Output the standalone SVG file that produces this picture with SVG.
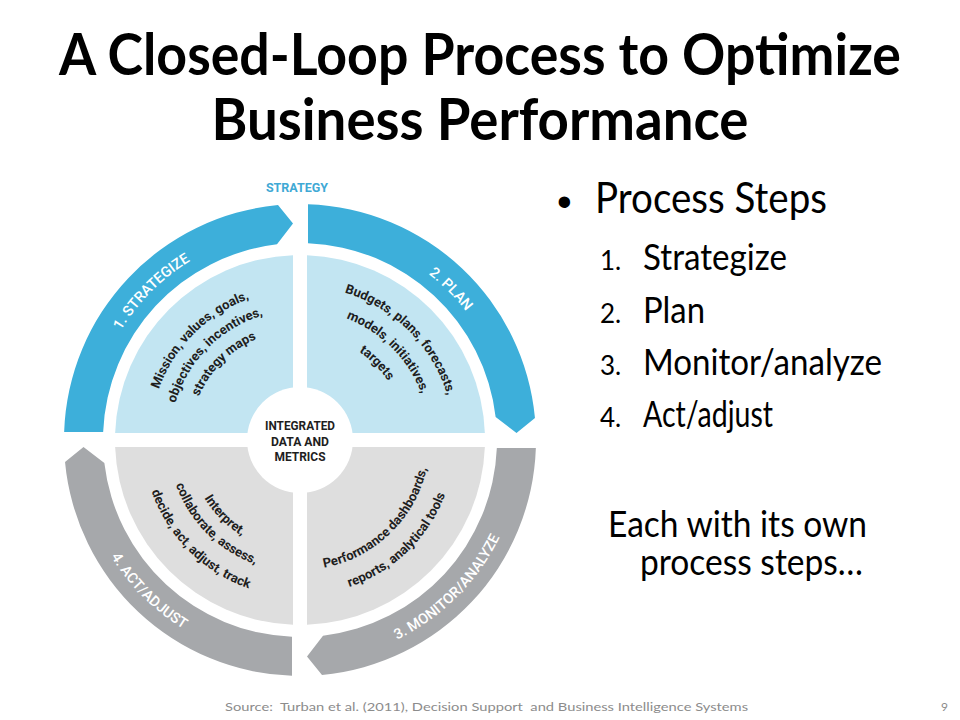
<svg xmlns="http://www.w3.org/2000/svg" xmlns:xlink="http://www.w3.org/1999/xlink" width="960" height="720" viewBox="0 0 960 720">
<style>
.title{font-family:Lato,"Open Sans","Liberation Sans",sans-serif;font-weight:bold;font-size:58px;fill:#000;text-anchor:middle}
.body{font-family:Lato,"Open Sans","Liberation Sans",sans-serif;fill:#000}
.num{font-size:26px}
.item{font-size:37px}
.blue{fill:#3DAFDA}
.lblue{fill:#C2E5F2}
.gray{fill:#A6A8AB}
.lgray{fill:#DEDEDE}
.ring{font-family:Roboto,"Liberation Sans",sans-serif;font-weight:500;font-size:14.5px;fill:#fff;text-anchor:middle}
.inner{font-family:Roboto,"Liberation Sans",sans-serif;font-weight:bold;font-size:13px;fill:#1E1E1E;text-anchor:middle}
.ctr{font-family:Roboto,"Liberation Sans",sans-serif;font-weight:bold;font-size:13.5px;fill:#1E1E1E;text-anchor:middle}
.foot{font-family:Lato,"Open Sans","Liberation Sans",sans-serif;font-size:12px;fill:#8C8C8C}
</style>
<defs>
<path id="band" d="M -235.86 -8 A 236 236 0 0 1 -22 -234.97 L -7 -216.5 L -23 -195.65 A 197 197 0 0 0 -196.84 -8 Z"/>
<path id="quad" d="M -7 -7 L -7 -184.87 A 185 185 0 0 0 -184.87 -7 Z"/>
<path id="p-s1" d="M 90 440 A 210 210 0 0 1 300 230"/>
<path id="p-s2" d="M 300 230 A 210 210 0 0 1 510 440"/>
<path id="p-s3" d="M 300 662 A 222 222 0 0 0 522 440"/>
<path id="p-s4" d="M 78 440 A 222 222 0 0 0 300 662"/>
<path id="tl1" d="M 177.12 526.04 A 150 150 0 0 1 386.04 317.12"/>
<path id="tl2" d="M 193.5 514.57 A 130 130 0 0 1 374.57 333.5"/>
<path id="tl3" d="M 209.89 503.1 A 110 110 0 0 1 363.1 349.89"/>
<path id="tr1" d="M 211.67 313.84 A 154 154 0 0 1 426.16 528.33"/>
<path id="tr2" d="M 225.43 333.5 A 130 130 0 0 1 406.5 514.57"/>
<path id="tr3" d="M 239.2 353.16 A 106 106 0 0 1 386.84 500.8"/>
<path id="bl1" d="M 208.25 375.76 A 112 112 0 0 0 364.24 531.75"/>
<path id="bl2" d="M 191.87 364.28 A 132 132 0 0 0 375.72 548.13"/>
<path id="bl3" d="M 171.39 349.94 A 157 157 0 0 0 390.06 568.61"/>
<path id="br1" d="M 223.59 545.17 A 130 130 0 0 0 407.77 367.3"/>
<path id="br2" d="M 208.89 565.4 A 155 155 0 0 0 428.5 353.32"/>
</defs>
<rect width="960" height="720" fill="#fff"/>
<g id="title">
<text class="title" x="480" y="75" textLength="842" lengthAdjust="spacingAndGlyphs">A Closed-Loop Process to Optimize</text>
<text class="title" x="480" y="140" textLength="537" lengthAdjust="spacingAndGlyphs">Business Performance</text>
</g>
<text id="strategy-label" x="297" y="192" font-family="Roboto,'Liberation Sans',sans-serif" font-weight="bold" font-size="12.5" fill="#3FA9D5" text-anchor="middle">STRATEGY</text>
<g id="connectors">
<use href="#band" class="blue" transform="translate(300 440)"/>
<use href="#band" class="blue" transform="translate(300 440) rotate(90)"/>
<use href="#band" class="gray" transform="translate(300 440) rotate(180)"/>
<use href="#band" class="gray" transform="translate(300 440) rotate(270)"/>
</g>
<g id="node-strategize">
<use href="#quad" class="lblue" transform="translate(300 440)"/>
<text class="ring"><textPath href="#p-s1" startOffset="50%">1. STRATEGIZE</textPath></text>
<text class="inner"><textPath href="#tl1" startOffset="50%">Mission, values, goals,</textPath></text>
<text class="inner"><textPath href="#tl2" startOffset="50%">objectives, incentives,</textPath></text>
<text class="inner"><textPath href="#tl3" startOffset="50%">strategy maps</textPath></text>
</g>
<g id="node-plan">
<use href="#quad" class="lblue" transform="translate(300 440) rotate(90)"/>
<text class="ring"><textPath href="#p-s2" startOffset="50%">2. PLAN</textPath></text>
<text class="inner"><textPath href="#tr1" startOffset="50%">Budgets, plans, forecasts,</textPath></text>
<text class="inner"><textPath href="#tr2" startOffset="50%">models, initiatives,</textPath></text>
<text class="inner"><textPath href="#tr3" startOffset="50%">targets</textPath></text>
</g>
<g id="node-monitor">
<use href="#quad" class="lgray" transform="translate(300 440) rotate(180)"/>
<text class="ring"><textPath href="#p-s3" startOffset="50%">3. MONITOR/ANALYZE</textPath></text>
<text class="inner"><textPath href="#br1" startOffset="50%">Performance dashboards,</textPath></text>
<text class="inner"><textPath href="#br2" startOffset="50%">reports, analytical tools</textPath></text>
</g>
<g id="node-act">
<use href="#quad" class="lgray" transform="translate(300 440) rotate(270)"/>
<text class="ring"><textPath href="#p-s4" startOffset="50%">4. ACT/ADJUST</textPath></text>
<text class="inner"><textPath href="#bl1" startOffset="50%">Interpret,</textPath></text>
<text class="inner"><textPath href="#bl2" startOffset="50%">collaborate, assess,</textPath></text>
<text class="inner"><textPath href="#bl3" startOffset="50%">decide, act, adjust, track</textPath></text>
</g>
<g id="node-center">
<circle cx="300" cy="440" r="53" fill="#fff"/>
<text class="ctr" x="300" y="430" textLength="70" lengthAdjust="spacingAndGlyphs">INTEGRATED</text>
<text class="ctr" x="300" y="446" textLength="58" lengthAdjust="spacingAndGlyphs">DATA AND</text>
<text class="ctr" x="300" y="461" textLength="51" lengthAdjust="spacingAndGlyphs">METRICS</text>
</g>
<g id="bullets" class="body">
<text x="557" y="216" font-family="'Liberation Sans',sans-serif" font-size="42">•</text>
<text x="595" y="213" font-size="42" textLength="232" lengthAdjust="spacingAndGlyphs">Process Steps</text>
<text class="num" x="600" y="270">1.</text>
<text class="item" x="643" y="270" textLength="144" lengthAdjust="spacingAndGlyphs">Strategize</text>
<text class="num" x="600" y="323">2.</text>
<text class="item" x="643" y="323" textLength="62" lengthAdjust="spacingAndGlyphs">Plan</text>
<text class="num" x="600" y="375">3.</text>
<text class="item" x="643" y="375" textLength="239" lengthAdjust="spacingAndGlyphs">Monitor/analyze</text>
<text class="num" x="600" y="427">4.</text>
<text class="item" x="643" y="427" textLength="130" lengthAdjust="spacingAndGlyphs">Act/adjust</text>
<text class="item" x="608" y="537" textLength="259" lengthAdjust="spacingAndGlyphs">Each with its own</text>
<text class="item" x="640" y="575" textLength="223" lengthAdjust="spacingAndGlyphs">process steps…</text>
</g>
<g id="footer">
<text class="foot" x="225" y="711" xml:space="preserve" textLength="523" lengthAdjust="spacingAndGlyphs">Source:  Turban et al. (2011), Decision Support  and Business Intelligence Systems</text>
<text class="foot" x="941" y="711">9</text>
</g>
</svg>
